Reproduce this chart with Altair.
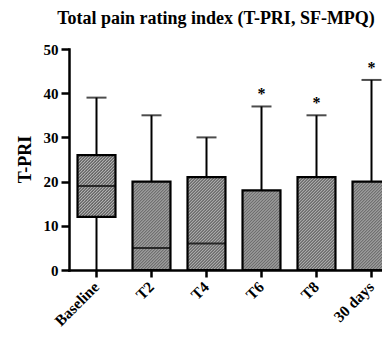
import urllib.parse
import altair as alt
import pandas as pd

# ---- data ----
title_text = "Total pain rating index (T-PRI, SF-MPQ)"
categories = ["Baseline", "T2", "T4", "T6", "T8", "30 days"]
whisker_min = [0, 0, 0, 0, 0, 0]
q1 = [12, 0, 0, 0, 0, 0]
median = [19, 5, 6, 0, 0, 0]
q3 = [26, 20, 21, 18, 21, 20]
whisker_max = [39, 35, 30, 37, 35, 43]
significance = ["", "", "", "*", "*", "*"]
y_ticks = [0, 10, 20, 30, 40, 50]

# ---- layout (svg kept inside 374 x 321; plot runs past the right edge
#      and is clipped there, as in the reference) ----
PAD_L, PAD_T = 61, 41
PLOT_W, PLOT_H = 330, 221
SVG_W, SVG_H = 374, 321
PAD_R = SVG_W - PAD_L - PLOT_W
PAD_B = SVG_H - PAD_T - PLOT_H
Y_MAX = 50
P_IN, P_OUT = 0.31, 0.155
STEP = PLOT_W / (6 - P_IN + 2 * P_OUT)
BAND = STEP * (1 - P_IN)
FONT = "Liberation Serif"


def hatch_url(h_units):
    """SVG tile texture (//// hatch) sized like the box it fills."""
    w = BAND
    h = max(h_units, 0.5) * PLOT_H / Y_MAX
    svg = (
        f"<svg xmlns='http://www.w3.org/2000/svg' width='{w:.2f}' height='{h:.2f}' "
        f"viewBox='0 0 {w:.2f} {h:.2f}' preserveAspectRatio='none'>"
        "<defs><pattern id='h' width='3' height='3' patternUnits='userSpaceOnUse'>"
        "<path d='M-1,1 L1,-1 M0,3 L3,0 M2,4 L4,2' stroke='#1e1e1e' "
        "stroke-width='1.15'/></pattern></defs>"
        "<rect width='100%' height='100%' fill='#f8f8f8'/>"
        "<rect width='100%' height='100%' fill='url(#h)'/></svg>"
    )
    return "data:image/svg+xml;charset=utf-8," + urllib.parse.quote(svg)


df = pd.DataFrame(dict(cat=categories, lo=whisker_min, q1=q1, med=median,
                       q3=q3, hi=whisker_max, sig=significance))
df["tex"] = [hatch_url(b - a) for a, b in zip(q1, q3)]
title_df = pd.DataFrame({"t": [title_text]})

xscale = alt.Scale(domain=categories, paddingInner=P_IN, paddingOuter=P_OUT)
yscale = alt.Scale(domain=[0, Y_MAX], nice=False)

x_enc = alt.X("cat:N", sort=categories, scale=xscale,
              axis=alt.Axis(title=None, labelAngle=-45, labelAlign="right",
                            labelBaseline="middle",
                            labelFont=FONT, labelFontWeight="bold",
                            labelFontSize=15.5, labelColor="black",
                            labelPadding=7, tickSize=7, tickWidth=2.5,
                            tickColor="black", domainColor="black",
                            domainWidth=2.5))
y_enc = alt.Y("lo:Q", scale=yscale,
              axis=alt.Axis(title="T-PRI", values=y_ticks, grid=False,
                            labelFont=FONT, labelFontWeight="bold",
                            labelFontSize=15, labelColor="black",
                            labelPadding=3, tickSize=8, tickWidth=2.5,
                            tickColor="black", domainColor="black",
                            domainWidth=2.5, titleFont=FONT,
                            titleFontWeight="bold", titleFontSize=18,
                            titleColor="#000000", titleX=-44, titleY=110,
                            titleAngle=-90, titleAlign="center",
                            titleBaseline="middle"))

base = alt.Chart(df)
X = alt.X("cat:N", sort=categories, scale=xscale)

whiskers = base.mark_rule(color="black", strokeWidth=2).encode(
    x=x_enc, y=y_enc, y2="hi:Q")

caps = base.mark_tick(color="black", thickness=2, size=20).encode(
    x=X, y=alt.Y("hi:Q", scale=yscale))

textures = base.mark_image(aspect=False).encode(
    x=X, y=alt.Y("q1:Q", scale=yscale), y2="q3:Q", url="tex:N")

boxes = base.mark_bar(fill="transparent", stroke="black",
                      strokeWidth=2.2).encode(
    x=X, y=alt.Y("q1:Q", scale=yscale), y2="q3:Q")

medians = base.mark_tick(color="black", thickness=2, size=BAND).encode(
    x=X, y=alt.Y("med:Q", scale=yscale))

stars = base.mark_text(font=FONT, fontWeight="bold", fontSize=16,
                       color="black", baseline="alphabetic", dy=-7).encode(
    x=X, y=alt.Y("hi:Q", scale=yscale), text="sig:N")

title = alt.Chart(title_df).mark_text(
    font=FONT, fontWeight="bold", fontSize=18, color="black",
    align="center", baseline="alphabetic").encode(
    x=alt.value(147), y=alt.value(-25), text="t:N")

chart = alt.layer(whiskers, caps, textures, boxes, medians, stars,
                  title).properties(
    width=PLOT_W, height=PLOT_H,
    autosize=alt.AutoSizeParams(type="none"),
    padding={"left": PAD_L, "top": PAD_T, "right": PAD_R, "bottom": PAD_B},
).configure_view(stroke=None).configure_axis(domainCap="square")

chart.save("out.html", embed_options={"renderer": "svg", "actions": False})
